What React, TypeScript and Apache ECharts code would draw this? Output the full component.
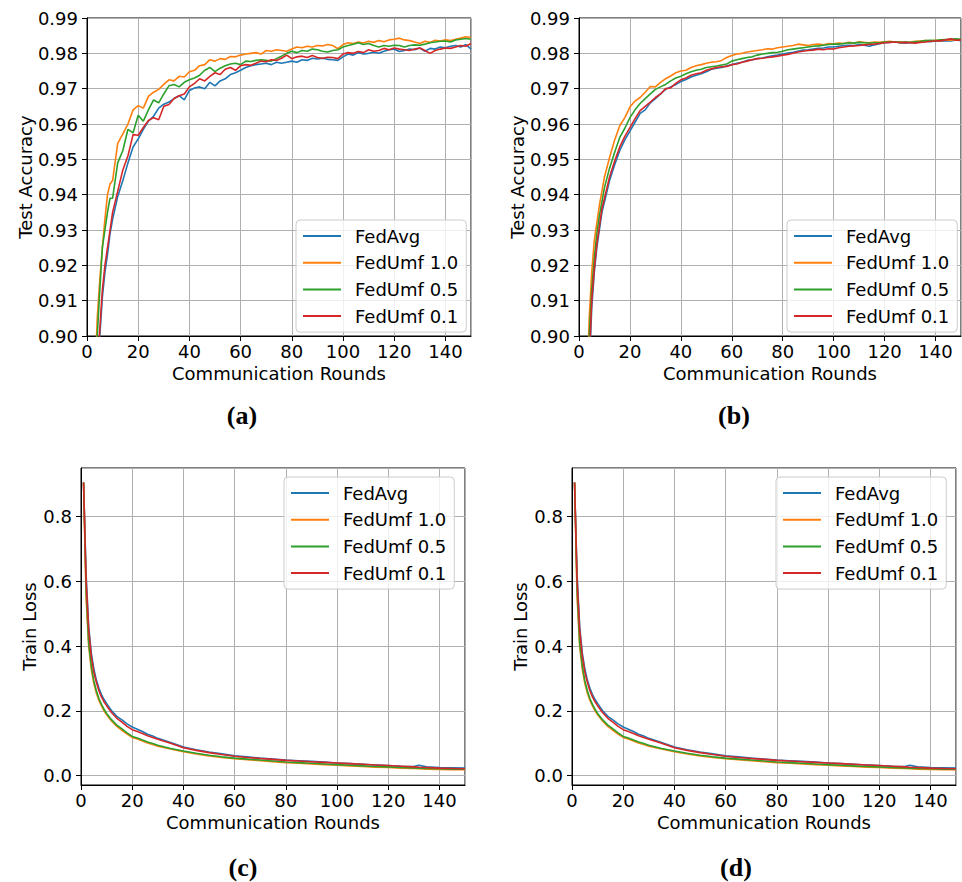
import React, { useEffect, useRef } from "react";
import * as echarts from "echarts";

const NAMES = ["FedAvg", "FedUmf 1.0", "FedUmf 0.5", "FedUmf 0.1"];
const COLORS = ["#1f77b4", "#ff7f0e", "#2ca02c", "#d62728"];
const PANEL_LABELS = ["(a)", "(b)", "(c)", "(d)"];
const X_TICKS = [0, 20, 40, 60, 80, 100, 120, 140];

const ACC_ROUNDS = [1, 2, 3, 4, 5, 6, 7, 8, 9, 10, 12, 14, 16, 18, 20, 22, 24, 26, 28, 30, 32, 34, 36, 38, 40, 42, 44, 46, 48, 50, 52, 54, 56, 58, 60, 62, 64, 66, 68, 70, 72, 74, 76, 78, 80, 82, 84, 86, 88, 90, 92, 94, 96, 98, 100, 102, 104, 106, 108, 110, 112, 114, 116, 118, 120, 122, 124, 126, 128, 130, 132, 134, 136, 138, 140, 142, 144, 146, 148, 150];

// Panel (a) test accuracy
const A_AVG = [0.72, 0.80, 0.86, 0.888, 0.900, 0.911, 0.918, 0.923, 0.929, 0.933,
  0.9395, 0.9440, 0.9490, 0.9535, 0.9558, 0.9585, 0.9608, 0.9622, 0.9645, 0.9656,
  0.9662, 0.9672, 0.9680, 0.9668, 0.9695, 0.9702, 0.9705, 0.9700, 0.9718, 0.9708,
  0.9722, 0.9728, 0.9740, 0.9745, 0.9752, 0.9760, 0.9765, 0.9768, 0.9770, 0.9772,
  0.9768, 0.9775, 0.9772, 0.9775, 0.9778, 0.9775, 0.9782, 0.9780, 0.9786, 0.9784,
  0.9786, 0.9783, 0.9782, 0.9780, 0.9790, 0.9798, 0.9795, 0.9802, 0.9798, 0.9800,
  0.9803, 0.9800, 0.9806, 0.9810, 0.9812, 0.9805, 0.9808, 0.9812, 0.9810, 0.9815,
  0.9806, 0.9814, 0.9812, 0.9818, 0.9816, 0.9820, 0.9822, 0.9818, 0.9825, 0.9812];
const A_FU10 = [0.80, 0.85, 0.885, 0.905, 0.916, 0.925, 0.933, 0.940, 0.943, 0.944,
  0.9545, 0.9572, 0.9600, 0.9640, 0.9652, 0.9645, 0.9678, 0.9690, 0.9698, 0.9712,
  0.9725, 0.9722, 0.9735, 0.9733, 0.9748, 0.9752, 0.9765, 0.9768, 0.9782, 0.9778,
  0.9785, 0.9783, 0.9791, 0.9790, 0.9795, 0.9798, 0.9800, 0.9802, 0.9798, 0.9808,
  0.9806, 0.9810, 0.9808, 0.9806, 0.9812, 0.9818, 0.9816, 0.9820, 0.9818, 0.9822,
  0.9821, 0.9825, 0.9822, 0.9813, 0.9825, 0.9830, 0.9828, 0.9832, 0.9829, 0.9834,
  0.9831, 0.9836, 0.9833, 0.9838, 0.9840, 0.9843, 0.9838, 0.9836, 0.9832, 0.9828,
  0.9834, 0.9831, 0.9837, 0.9835, 0.9838, 0.9836, 0.9840, 0.9843, 0.9847, 0.9845];
const A_FU05 = [0.78, 0.84, 0.88, 0.900, 0.913, 0.925, 0.930, 0.935, 0.939, 0.939,
  0.9490, 0.9525, 0.9585, 0.9575, 0.9625, 0.9608, 0.9640, 0.9668, 0.9660, 0.9685,
  0.9708, 0.9712, 0.9705, 0.9718, 0.9725, 0.9730, 0.9738, 0.9752, 0.9760, 0.9748,
  0.9758, 0.9765, 0.9770, 0.9772, 0.9768, 0.9778, 0.9777, 0.9780, 0.9782, 0.9780,
  0.9778, 0.9785, 0.9792, 0.9800, 0.9806, 0.9802, 0.9808, 0.9806, 0.9812, 0.9810,
  0.9806, 0.9804, 0.9808, 0.9810, 0.9818, 0.9822, 0.9826, 0.9830, 0.9825, 0.9828,
  0.9822, 0.9818, 0.9822, 0.9820, 0.9823, 0.9822, 0.9818, 0.9822, 0.9824, 0.9823,
  0.9826, 0.9830, 0.9832, 0.9834, 0.9835, 0.9832, 0.9838, 0.9840, 0.9842, 0.9840];
const A_FU01 = [0.74, 0.81, 0.865, 0.890, 0.902, 0.913, 0.920, 0.925, 0.930, 0.935,
  0.9410, 0.9470, 0.9510, 0.9570, 0.9568, 0.9590, 0.9610, 0.9618, 0.9612, 0.9650,
  0.9655, 0.9672, 0.9680, 0.9685, 0.9705, 0.9715, 0.9728, 0.9722, 0.9735, 0.9745,
  0.9740, 0.9755, 0.9760, 0.9752, 0.9765, 0.9768, 0.9766, 0.9772, 0.9778, 0.9776,
  0.9782, 0.9780, 0.9786, 0.9795, 0.9785, 0.9790, 0.9792, 0.9788, 0.9794, 0.9788,
  0.9786, 0.9789, 0.9788, 0.9785, 0.9798, 0.9802, 0.9800, 0.9805, 0.9802, 0.9810,
  0.9806, 0.9808, 0.9814, 0.9810, 0.9815, 0.9812, 0.9810, 0.9808, 0.9812, 0.9815,
  0.9808, 0.9800, 0.9808, 0.9812, 0.9815, 0.9814, 0.9818, 0.9822, 0.9820, 0.9828];

// Panel (b) test accuracy
const B_AVG = [0.68, 0.78, 0.855, 0.890, 0.908, 0.918, 0.925, 0.930, 0.935, 0.938,
  0.9440, 0.9485, 0.9525, 0.9555, 0.9580, 0.9605, 0.9630, 0.9640, 0.9660, 0.9672,
  0.9685, 0.9698, 0.9705, 0.9712, 0.9720, 0.9726, 0.9733, 0.9738, 0.9742, 0.9748,
  0.9755, 0.9758, 0.9760, 0.9764, 0.9768, 0.9772, 0.9775, 0.9780, 0.9782, 0.9785,
  0.9787, 0.9790, 0.9793, 0.9795, 0.9798, 0.9801, 0.9803, 0.9806, 0.9809, 0.9810,
  0.9812, 0.9814, 0.9815, 0.9818, 0.9818, 0.9820, 0.9822, 0.9823, 0.9822, 0.9825,
  0.9823, 0.9820, 0.9824, 0.9827, 0.9830, 0.9831, 0.9833, 0.9830, 0.9829, 0.9830,
  0.9831, 0.9833, 0.9834, 0.9833, 0.9835, 0.9834, 0.9836, 0.9835, 0.9838, 0.9836];
const B_FU10 = [0.74, 0.82, 0.88, 0.905, 0.918, 0.927, 0.932, 0.937, 0.941, 0.945,
  0.9505, 0.9555, 0.9595, 0.9618, 0.9648, 0.9665, 0.9675, 0.9690, 0.9706, 0.9705,
  0.9718, 0.9728, 0.9736, 0.9745, 0.9750, 0.9752, 0.9760, 0.9765, 0.9768, 0.9772,
  0.9775, 0.9776, 0.9780, 0.9788, 0.9794, 0.9798, 0.9800, 0.9804, 0.9806, 0.9808,
  0.9810, 0.9813, 0.9812, 0.9816, 0.9818, 0.9820, 0.9822, 0.9826, 0.9824, 0.9822,
  0.9825, 0.9826, 0.9824, 0.9828, 0.9827, 0.9829, 0.9828, 0.9831, 0.9829, 0.9833,
  0.9831, 0.9830, 0.9832, 0.9831, 0.9833, 0.9834, 0.9832, 0.9833, 0.9831, 0.9832,
  0.9834, 0.9835, 0.9836, 0.9835, 0.9837, 0.9836, 0.9838, 0.9837, 0.9839, 0.9838];
const B_FU05 = [0.72, 0.81, 0.87, 0.900, 0.913, 0.922, 0.929, 0.934, 0.938, 0.942,
  0.9475, 0.9520, 0.9562, 0.9588, 0.9618, 0.9640, 0.9658, 0.9672, 0.9685, 0.9698,
  0.9705, 0.9712, 0.9722, 0.9730, 0.9735, 0.9742, 0.9748, 0.9752, 0.9755, 0.9760,
  0.9762, 0.9764, 0.9767, 0.9770, 0.9778, 0.9782, 0.9785, 0.9788, 0.9790, 0.9795,
  0.9798, 0.9800, 0.9802, 0.9803, 0.9806, 0.9810, 0.9812, 0.9814, 0.9816, 0.9818,
  0.9820, 0.9821, 0.9823, 0.9825, 0.9826, 0.9826, 0.9828, 0.9830, 0.9829, 0.9831,
  0.9830, 0.9829, 0.9830, 0.9830, 0.9832, 0.9832, 0.9833, 0.9831, 0.9832, 0.9831,
  0.9833, 0.9834, 0.9836, 0.9837, 0.9836, 0.9838, 0.9839, 0.9840, 0.9841, 0.9840];
const B_FU01 = [0.70, 0.79, 0.86, 0.893, 0.910, 0.919, 0.926, 0.931, 0.936, 0.939,
  0.9450, 0.9495, 0.9535, 0.9565, 0.9590, 0.9615, 0.9638, 0.9650, 0.9662, 0.9675,
  0.9685, 0.9700, 0.9702, 0.9715, 0.9725, 0.9730, 0.9738, 0.9742, 0.9745, 0.9752,
  0.9756, 0.9760, 0.9762, 0.9763, 0.9768, 0.9770, 0.9775, 0.9778, 0.9782, 0.9785,
  0.9786, 0.9788, 0.9790, 0.9792, 0.9795, 0.9797, 0.9800, 0.9804, 0.9806, 0.9808,
  0.9809, 0.9812, 0.9810, 0.9813, 0.9812, 0.9816, 0.9818, 0.9820, 0.9821, 0.9822,
  0.9824, 0.9825, 0.9826, 0.9828, 0.9830, 0.9831, 0.9832, 0.9830, 0.9831, 0.9830,
  0.9829, 0.9831, 0.9832, 0.9834, 0.9835, 0.9836, 0.9838, 0.9841, 0.9837, 0.9838];

// Panels (c) and (d) train loss
const LOSS_ROUNDS = [1, 2, 3, 4, 5, 6, 7, 8, 9, 10, 12, 14, 16, 18, 20, 22, 24, 26, 28, 30, 35, 40, 45, 50, 55, 60, 65, 70, 75, 80, 85, 90, 95, 100, 105, 110, 115, 120, 125, 130, 132, 135, 140, 145, 150];
const L_AVG = [0.905, 0.62, 0.46, 0.38, 0.33, 0.295, 0.27, 0.25, 0.235, 0.223,
  0.200, 0.183, 0.172, 0.160, 0.150, 0.143, 0.136, 0.128, 0.122, 0.115,
  0.102, 0.088, 0.080, 0.073, 0.067, 0.061, 0.058, 0.054, 0.051, 0.048,
  0.046, 0.044, 0.042, 0.039, 0.037, 0.035, 0.033, 0.031, 0.029, 0.028,
  0.032, 0.027, 0.025, 0.024, 0.023];
const L_FU10 = [0.905, 0.55, 0.40, 0.33, 0.285, 0.255, 0.232, 0.215, 0.200, 0.188,
  0.168, 0.152, 0.140, 0.128, 0.118, 0.113, 0.107, 0.101, 0.096, 0.091,
  0.082, 0.074, 0.067, 0.061, 0.056, 0.052, 0.049, 0.046, 0.043, 0.040,
  0.038, 0.036, 0.034, 0.032, 0.030, 0.028, 0.026, 0.025, 0.023, 0.022,
  0.021, 0.020, 0.019, 0.018, 0.018];
const L_FU05 = [0.905, 0.57, 0.41, 0.34, 0.293, 0.262, 0.238, 0.220, 0.205, 0.192,
  0.172, 0.156, 0.144, 0.132, 0.121, 0.116, 0.110, 0.104, 0.099, 0.094,
  0.084, 0.076, 0.069, 0.063, 0.058, 0.054, 0.051, 0.048, 0.045, 0.042,
  0.040, 0.038, 0.036, 0.034, 0.032, 0.030, 0.028, 0.027, 0.025, 0.024,
  0.023, 0.022, 0.021, 0.020, 0.020];
const L_FU01 = [0.905, 0.60, 0.45, 0.37, 0.32, 0.288, 0.262, 0.243, 0.228, 0.216,
  0.194, 0.177, 0.165, 0.152, 0.142, 0.136, 0.130, 0.123, 0.118, 0.112,
  0.100, 0.086, 0.078, 0.071, 0.065, 0.060, 0.056, 0.053, 0.050, 0.047,
  0.045, 0.043, 0.041, 0.039, 0.037, 0.035, 0.033, 0.031, 0.029, 0.027,
  0.026, 0.025, 0.023, 0.022, 0.021];

const FONT = "DejaVu Sans";

const GRIDS = [
  { left: 87, top: 18, width: 384, height: 318 },
  { left: 579, top: 18, width: 382, height: 318 },
  { left: 81, top: 468, width: 384, height: 317 },
  { left: 572, top: 468, width: 384, height: 317 },
];
const LEGEND_POS = [
  { left: 296, top: 220 },
  { left: 787, top: 220 },
  { left: 284, top: 477 },
  { left: 776, top: 477 },
];
const LABEL_POS = [
  { x: 242, y: 415 },
  { x: 734, y: 415 },
  { x: 243, y: 867 },
  { x: 736, y: 867 },
];

export default function App() {
  const ref = useRef<HTMLDivElement>(null);
  useEffect(() => {
    document.body.style.margin = "0";
    if (!ref.current) return;
    const chart = echarts.init(ref.current, null, { renderer: "svg" });

    const panels = [
      { rounds: ACC_ROUNDS, data: [A_AVG, A_FU10, A_FU05, A_FU01], kind: "acc" },
      { rounds: ACC_ROUNDS, data: [B_AVG, B_FU10, B_FU05, B_FU01], kind: "acc" },
      { rounds: LOSS_ROUNDS, data: [L_AVG, L_FU10, L_FU05, L_FU01], kind: "loss" },
      { rounds: LOSS_ROUNDS, data: [L_AVG, L_FU10, L_FU05, L_FU01], kind: "loss" },
    ];

    const axisCommon = {
      axisLine: { show: true, onZero: false, lineStyle: { color: "#000", width: 1 } },
      axisTick: { show: true, length: 5, lineStyle: { color: "#000", width: 1 } },
      splitLine: { show: true, lineStyle: { color: "#b0b0b0", width: 1 } },
      nameTextStyle: { fontSize: 18, color: "#000", fontFamily: FONT },
    };

    const grid = GRIDS.map((g) => ({
      ...g,
      show: true,
      borderColor: "#000",
      borderWidth: 1,
      backgroundColor: "transparent",
    }));

    const xAxis = GRIDS.map((_, i) => ({
      type: "value",
      gridIndex: i,
      min: X_TICKS[0],
      max: 150,
      interval: X_TICKS[1] - X_TICKS[0],
      name: "Communication Rounds",
      nameLocation: "middle",
      nameGap: 28,
      ...axisCommon,
      axisLabel: {
        fontSize: 18,
        color: "#000",
        fontFamily: FONT,
        margin: 6,
        showMaxLabel: false,
      },
    }));

    const yAxis = panels.map((p, i) =>
      p.kind === "acc"
        ? {
            type: "value",
            gridIndex: i,
            min: 0.9,
            max: 0.99,
            interval: 0.01,
            name: "Test Accuracy",
            nameLocation: "middle",
            nameGap: 52,
            ...axisCommon,
            axisLabel: {
              fontSize: 18,
              color: "#000",
              fontFamily: FONT,
              margin: 9,
              formatter: (v: number) => v.toFixed(2),
            },
          }
        : {
            type: "value",
            gridIndex: i,
            min: -0.029,
            max: 0.95,
            splitNumber: 5,
            name: "Train Loss",
            nameLocation: "middle",
            nameGap: 43,
            ...axisCommon,
            axisLabel: {
              fontSize: 18,
              color: "#000",
              fontFamily: FONT,
              margin: 9,
              showMinLabel: false,
              showMaxLabel: false,
              formatter: (v: number) => v.toFixed(1),
            },
          }
    );

    const series: any[] = [];
    panels.forEach((p, pi) => {
      p.data.forEach((vals, si) => {
        series.push({
          type: "line",
          name: NAMES[si],
          xAxisIndex: pi,
          yAxisIndex: pi,
          data: p.rounds.map((r, k) => [r, vals[k]]),
          showSymbol: false,
          symbol: "none",
          clip: true,
          color: COLORS[si],
          lineStyle: { color: COLORS[si], width: 1.6 },
          z: 2 + si,
        });
      });
    });

    const legend = LEGEND_POS.map((pos) => ({
      ...pos,
      orient: "vertical",
      data: NAMES,
      icon: "rect",
      itemWidth: 38,
      itemHeight: 2,
      itemGap: 6.7,
      padding: [6, 8, 6, 7],
      backgroundColor: "rgba(255,255,255,0.8)",
      borderColor: "#cccccc",
      borderWidth: 1,
      borderRadius: 4,
      selectedMode: false,
      textStyle: {
        fontSize: 18,
        color: "#000",
        fontFamily: FONT,
        lineHeight: 20,
        padding: [0, 0, 0, 9],
      },
    }));

    const graphic = PANEL_LABELS.map((t, i) => ({
      type: "text",
      x: LABEL_POS[i].x,
      y: LABEL_POS[i].y,
      style: {
        text: t,
        fill: "#000",
        fontSize: 26,
        fontWeight: "bold",
        fontFamily: "Liberation Serif",
        align: "center",
        verticalAlign: "middle",
        textAlign: "center",
        textVerticalAlign: "middle",
      },
    }));

    chart.setOption({
      animation: false,
      backgroundColor: "#fff",
      textStyle: { fontFamily: FONT },
      grid,
      xAxis,
      yAxis,
      legend,
      series,
      graphic,
    } as any);

    return () => chart.dispose();
  }, []);

  return <div ref={ref} style={{ width: 962, height: 882 }} />;
}
